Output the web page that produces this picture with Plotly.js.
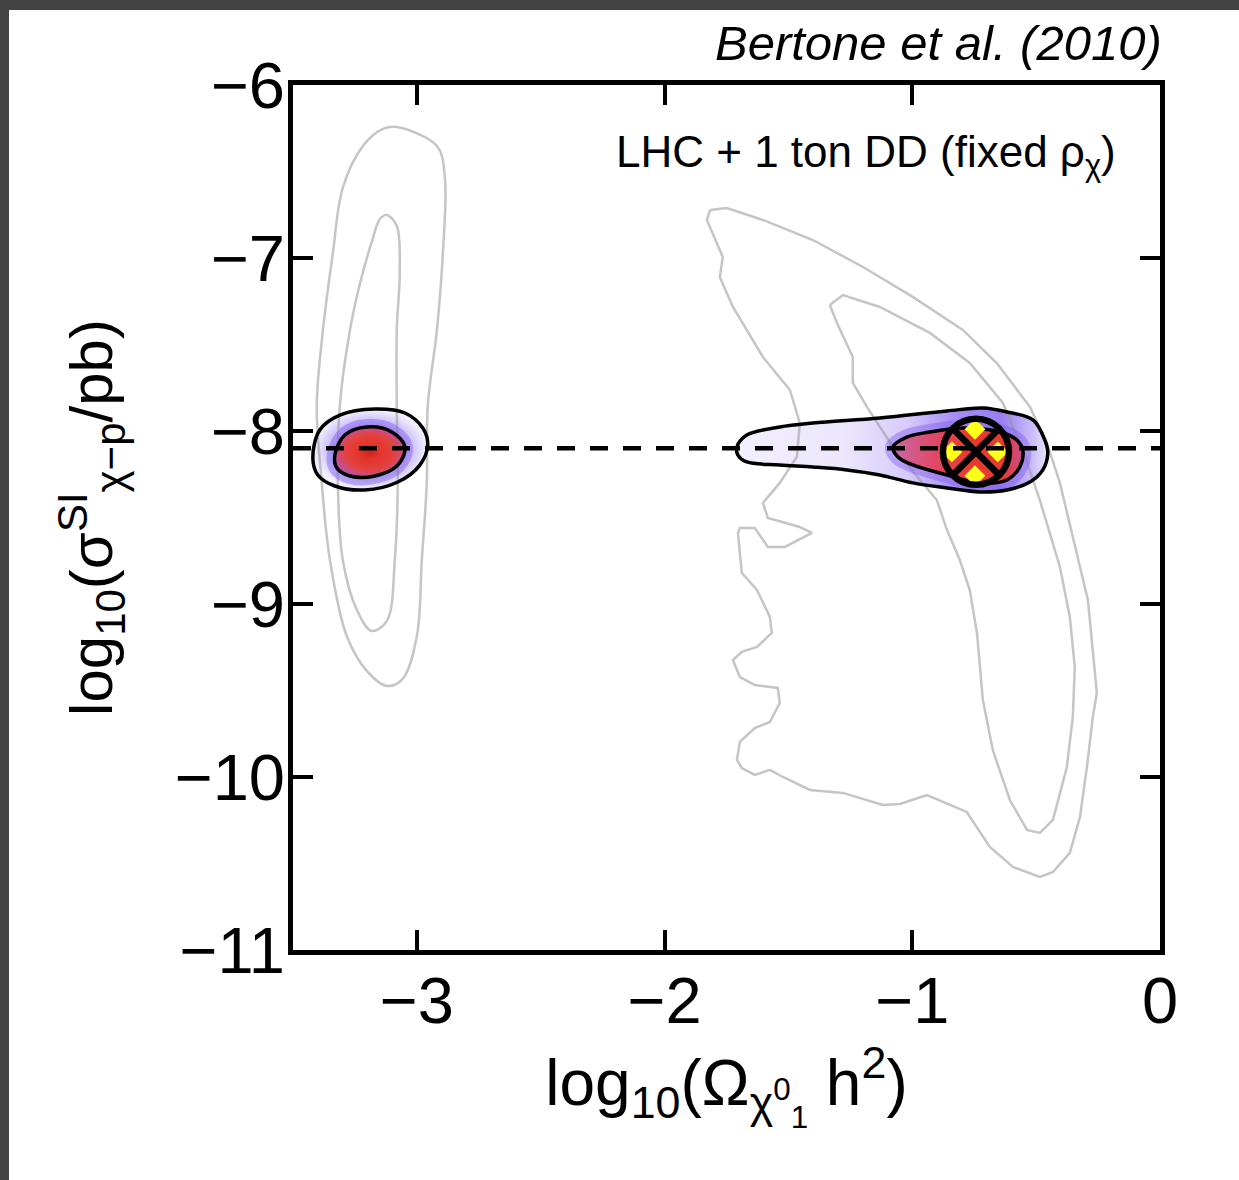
<!DOCTYPE html>
<html><head><meta charset="utf-8">
<script src="https://cdn.plot.ly/plotly-3.0.1.min.js"></script>
<style>
html,body{margin:0;padding:0;background:#434343;width:1239px;height:1180px;overflow:hidden}
#chart{position:absolute;left:9px;top:10px;width:1230px;height:1170px;background:#fff}
</style></head><body><div id="chart"></div>
<script>
// ---- axis ticks ----
const xTicks = [-3, -2, -1, 0];
const yTicks = [-11, -10, -9, -8, -7, -6];

// ---- gray contours: LHC-only 68% / 95% regions ----
const grayLeftOuterX = [-3.081,-2.919,-2.887,-2.895,-2.919,-2.956,-2.960,-2.980,-3.000,-3.057,-3.121,-3.202,-3.283,-3.351,-3.384,-3.404,-3.379,-3.339,-3.299,-3.218,-3.137,-3.081];
const grayLeftOuterY = [-6.243,-6.353,-6.532,-6.971,-7.416,-7.855,-8.300,-8.746,-9.185,-9.433,-9.474,-9.387,-9.185,-8.746,-8.300,-7.855,-7.416,-6.971,-6.595,-6.353,-6.254,-6.243];
const grayLeftInnerX = [-3.121,-3.081,-3.069,-3.081,-3.081,-3.077,-3.089,-3.121,-3.182,-3.242,-3.299,-3.319,-3.311,-3.270,-3.230,-3.182,-3.149,-3.121];
const grayLeftInnerY = [-6.751,-6.815,-7.081,-7.416,-7.855,-8.300,-8.746,-9.098,-9.156,-9.035,-8.746,-8.300,-7.855,-7.416,-7.150,-6.907,-6.775,-6.751];

const grayRightOuterX = [-1.817,-1.749,-1.603,-1.401,-1.199,-0.998,-0.796,-0.659,-0.525,-0.457,-0.404,-0.364,-0.323,-0.291,-0.271,-0.255,-0.271,-0.295,-0.323,-0.364,-0.432,-0.485,-0.594,-0.687,-0.780,-0.941,-1.050,-1.119,-1.280,-1.413,-1.522,-1.575,-1.636,-1.688,-1.708,-1.696,-1.636,-1.575,-1.535,-1.543,-1.636,-1.696,-1.724,-1.688,-1.627,-1.567,-1.575,-1.627,-1.688,-1.704,-1.696,-1.636,-1.583,-1.514,-1.405,-1.454,-1.583,-1.603,-1.535,-1.466,-1.454,-1.494,-1.603,-1.724,-1.777,-1.765,-1.829,-1.817];
const grayRightOuterY = [-6.723,-6.711,-6.780,-6.896,-7.052,-7.225,-7.416,-7.607,-7.861,-8.069,-8.300,-8.532,-8.786,-8.977,-9.266,-9.514,-9.653,-9.942,-10.231,-10.439,-10.549,-10.578,-10.520,-10.404,-10.202,-10.104,-10.156,-10.162,-10.092,-10.075,-10.000,-9.959,-9.988,-9.948,-9.902,-9.797,-9.717,-9.682,-9.572,-9.485,-9.468,-9.422,-9.324,-9.277,-9.248,-9.167,-9.075,-8.919,-8.821,-8.589,-8.561,-8.561,-8.670,-8.670,-8.589,-8.555,-8.503,-8.416,-8.300,-8.150,-7.954,-7.763,-7.572,-7.283,-7.110,-6.994,-6.780,-6.723];
const grayRightInnerX = [-1.333,-1.280,-1.131,-0.929,-0.768,-0.634,-0.554,-0.485,-0.404,-0.364,-0.344,-0.352,-0.376,-0.432,-0.485,-0.537,-0.606,-0.675,-0.715,-0.739,-0.768,-0.808,-0.860,-0.901,-0.969,-1.078,-1.183,-1.240,-1.240,-1.304,-1.333];
const grayRightInnerY = [-7.272,-7.214,-7.283,-7.433,-7.607,-7.838,-8.110,-8.399,-8.786,-9.075,-9.364,-9.653,-9.942,-10.248,-10.323,-10.306,-10.133,-9.844,-9.555,-9.167,-8.919,-8.746,-8.572,-8.399,-8.283,-8.092,-7.861,-7.722,-7.572,-7.376,-7.272];

// ---- black contours: LHC + 1 ton DD 68% / 95% regions ----
const leftOuterX = [-3.420,-3.392,-3.311,-3.170,-3.048,-2.976,-2.956,-2.988,-3.077,-3.210,-3.331,-3.400,-3.420];
const leftOuterY = [-8.156,-7.994,-7.908,-7.873,-7.896,-7.983,-8.081,-8.197,-8.295,-8.341,-8.318,-8.254,-8.156];
const leftInnerX = [-3.331,-3.291,-3.202,-3.101,-3.048,-3.077,-3.170,-3.270,-3.323,-3.331];
const leftInnerY = [-8.139,-8.023,-7.977,-8.006,-8.092,-8.197,-8.260,-8.260,-8.214,-8.139];
const rightOuterX = [-1.708,-1.668,-1.535,-1.401,-1.131,-0.860,-0.715,-0.618,-0.513,-0.465,-0.453,-0.473,-0.525,-0.618,-0.727,-0.860,-0.998,-1.131,-1.264,-1.401,-1.535,-1.668,-1.704,-1.708];
const rightOuterY = [-8.092,-8.023,-7.977,-7.954,-7.925,-7.884,-7.867,-7.890,-7.936,-8.052,-8.127,-8.225,-8.295,-8.341,-8.352,-8.329,-8.300,-8.254,-8.225,-8.208,-8.196,-8.179,-8.139,-8.092];
const rightInnerX = [-1.078,-1.022,-0.929,-0.796,-0.646,-0.578,-0.554,-0.566,-0.618,-0.727,-0.860,-0.998,-1.058,-1.078];
const rightInnerY = [-8.092,-8.035,-8.006,-7.983,-8.006,-8.052,-8.110,-8.208,-8.283,-8.300,-8.254,-8.196,-8.150,-8.092];

// ---- highest-density bins, benchmark line, true value ----
const peakBinsX = [-0.747, -0.840, -0.655, -0.747];
const peakBinsY = [-7.990, -8.121, -8.121, -8.258];
const benchmarkX = [-3.5, 0];
const benchmarkY = [-8.1, -8.1];
const bestFitX = [-0.743];
const bestFitY = [-8.12];

const FONT = 'Liberation Sans, Arial, Helvetica, sans-serif';

function fillTrace(x, y, grad, shape) {
  return {x, y, type: 'scatter', mode: 'lines', fill: 'toself',
    line: {width: 0, shape: shape || 'spline'}, fillgradient: grad, hoverinfo: 'skip', showlegend: false};
}
function lineTrace(x, y, color, width, shape, dash) {
  return {x, y, type: 'scatter', mode: 'lines',
    line: {color, width, shape: shape || 'spline', dash: dash || 'solid'}, hoverinfo: 'skip', showlegend: false};
}

const traces = [
  fillTrace(leftOuterX, leftOuterY, {type: 'radial', colorscale: [[0, '#8a6cf0'], [0.45, '#a58ef5'], [0.8, '#d8cffb'], [1, '#f4f1fe']]}),
  fillTrace(rightOuterX, rightOuterY, {type: 'horizontal', colorscale: [[0, '#f3f0fd'], [0.35, '#ebe6fc'], [0.55, '#d6cbfa'], [0.7, '#a68cf5'], [0.85, '#9a7ff3'], [0.95, '#c9bcf9'], [1, '#ece7fd']]}),
  lineTrace(grayLeftOuterX, grayLeftOuterY, 'rgba(150,150,150,0.55)', 2.5),
  lineTrace(grayLeftInnerX, grayLeftInnerY, 'rgba(150,150,150,0.55)', 2.5),
  lineTrace(grayRightOuterX, grayRightOuterY, 'rgba(150,150,150,0.55)', 2.5, 'linear'),
  lineTrace(grayRightInnerX, grayRightInnerY, 'rgba(150,150,150,0.55)', 2.5, 'linear'),
  lineTrace(leftInnerX, leftInnerY, 'rgba(130,95,240,0.45)', 16),
  lineTrace(rightInnerX, rightInnerY, 'rgba(130,95,240,0.45)', 16),
  fillTrace(leftInnerX, leftInnerY, {type: 'radial', colorscale: [[0, '#c9261c'], [0.3, '#e3342a'], [0.7, '#e4423e'], [1, '#c0509a']]}),
  fillTrace(rightInnerX, rightInnerY, {type: 'horizontal', colorscale: [[0, '#c86aa8'], [0.3, '#df4a6a'], [0.6, '#e8382e'], [0.85, '#e63a32'], [1, '#c65090']]}),
  lineTrace(leftOuterX, leftOuterY, '#000', 3.5),
  lineTrace(leftInnerX, leftInnerY, '#000', 3.5),
  lineTrace(rightOuterX, rightOuterY, '#000', 3.5),
  lineTrace(rightInnerX, rightInnerY, '#000', 3.5),
  {x: peakBinsX, y: peakBinsY, type: 'scatter', mode: 'markers',
   marker: {symbol: 'diamond', size: 16, color: '#ffff1a', line: {width: 0}}, hoverinfo: 'skip', showlegend: false},
  lineTrace(benchmarkX, benchmarkY, '#000', 4.5, 'linear', '18px,15px'),
  {x: bestFitX, y: bestFitY, type: 'scatter', mode: 'markers',
   marker: {symbol: 'circle-x-open', size: 66, color: '#000', line: {width: 6.5, color: '#000'}}, hoverinfo: 'skip', showlegend: false}
];

const axisCommon = {
  showgrid: false, zeroline: false, ticks: 'inside', ticklen: 20, tickwidth: 4,
  showline: true, linewidth: 5, linecolor: '#000', mirror: 'ticks', tickcolor: '#000',
  tickfont: {family: FONT, size: 65, color: '#000'}
};

const layout = {
  width: 1230, height: 1170,
  margin: {l: 284, r: 79, t: 75, b: 230},
  paper_bgcolor: '#fff', plot_bgcolor: '#fff',
  xaxis: Object.assign({}, axisCommon, {
    range: [-3.5, 0], tickvals: xTicks, ticktext: xTicks.map(v => v === 0 ? '0' : '\u2212' + Math.abs(v)),
    ticklabelstandoff: -10,
    title: {text: 'log<sub>10</sub>(Ω<sub>χ<sup>0</sup><sub>1</sub></sub> h<sup>2</sup>)', font: {family: FONT, size: 64, color: '#000'}, standoff: 14}
  }),
  yaxis: Object.assign({}, axisCommon, {
    range: [-11, -6], tickvals: yTicks, ticktext: yTicks.map(v => '\u2212' + Math.abs(v)),
    ticklabelstandoff: -10,
    title: {text: 'log<sub>10</sub>(σ<sup>SI</sup><sub>χ\u2212p</sub>/pb)', font: {family: FONT, size: 60, color: '#000'}, standoff: 44}
  }),
  annotations: [
    {xref: 'paper', yref: 'paper', x: 1, y: 1, xanchor: 'right', yanchor: 'middle', xshift: 4, yshift: 42,
     text: '<i>Bertone et al. (2010)</i>', showarrow: false, font: {family: FONT, size: 49, color: '#000'}},
    {xref: 'paper', yref: 'paper', x: 0.952, y: 0.919, xanchor: 'right', yanchor: 'middle',
     text: 'LHC + 1 ton DD (fixed ρ<sub>χ</sub>)', showarrow: false, font: {family: FONT, size: 44, color: '#000'}}
  ]
};

Plotly.newPlot('chart', traces, layout, {displayModeBar: false, staticPlot: true});
</script></body></html>
